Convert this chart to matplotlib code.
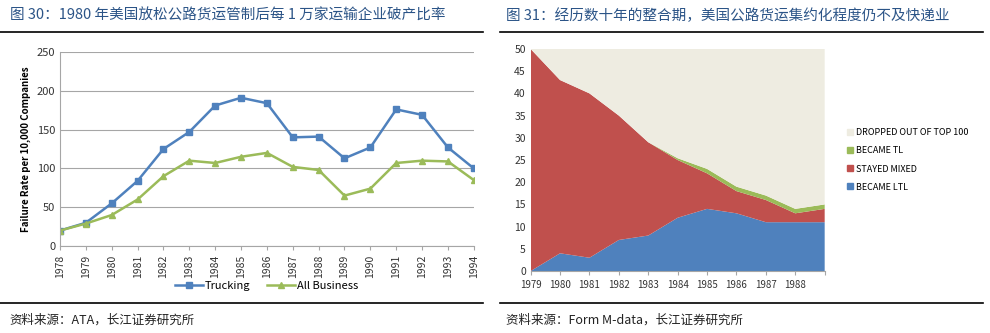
import matplotlib
matplotlib.use("Agg")
import matplotlib.pyplot as plt
from matplotlib.lines import Line2D
from matplotlib.patches import Patch

plt.rcParams['font.family'] = ['Noto Sans CJK SC', 'DejaVu Sans']

# 图 30 数据
years_l = list(range(1978, 1995))
trucking = [20, 30, 55, 84, 125, 147, 181, 191, 184, 140, 141, 113, 127, 176, 169, 127, 100]
all_business = [20, 29, 40, 60, 90, 110, 107, 115, 120, 102, 98, 65, 74, 107, 110, 109, 85]

# 图 31 数据
years_r = list(range(1979, 1990))
became_ltl = [0, 4, 3, 7, 8, 12, 14, 13, 11, 11, 11]
stayed_mixed = [50, 39, 37, 28, 21, 13, 8, 5, 5, 2, 3]
became_tl = [0, 0, 0, 0, 0, 0.4, 1, 1, 1, 1, 1]
dropped = [0, 7, 10, 15, 21, 24.6, 27, 31, 33, 36, 35]
year_labels_r = ['1979', '1980', '1981', '1982', '1983', '1984', '1985', '1986', '1987', '1988', '']

BLUE = "#4F81BD"
RED = "#C0504D"
GREEN = "#9BBB59"
BEIGE = "#EEECE1"
TITLE_C = "#2B5487"
GRID = "#A6A6A6"

fig = plt.figure(figsize=(9.9, 3.33), dpi=100)

# 标题与分隔线
fig.text(0.010, 0.952, "图 30：1980 年美国放松公路货运管制后每 1 万家运输企业破产比率",
         fontsize=10.5, color=TITLE_C, va="center")
fig.text(0.511, 0.952, "图 31：经历数十年的整合期，美国公路货运集约化程度仍不及快递业",
         fontsize=10.5, color=TITLE_C, va="center")
for x0, x1 in [(0.0, 0.488), (0.505, 0.993)]:
    fig.add_artist(Line2D([x0, x1], [0.904, 0.904], color="black", lw=1.2))
    fig.add_artist(Line2D([x0, x1], [0.090, 0.090], color="black", lw=1.2))
fig.text(0.010, 0.040, "资料来源：ATA，长江证券研究所", fontsize=9, color="#222222", va="center")
fig.text(0.511, 0.040, "资料来源：Form M-data，长江证券研究所", fontsize=9, color="#222222", va="center")

# 左图：折线
ax1 = fig.add_axes([0.0606, 0.261, 0.418, 0.583])
ax1.plot(years_l, trucking, color=BLUE, lw=1.8, marker="s", ms=4, label="Trucking")
ax1.plot(years_l, all_business, color=GREEN, lw=1.8, marker="^", ms=4, label="All Business")
ax1.set_xlim(1978, 1994)
ax1.set_ylim(0, 250)
ax1.set_yticks(range(0, 251, 50))
ax1.set_xticks(years_l)
ax1.set_xticklabels([str(y) for y in years_l], rotation=90, fontsize=7.5, color="#333333")
ax1.tick_params(axis="y", labelsize=8, colors="#333333", length=0)
ax1.tick_params(axis="x", length=3, color=GRID)
ax1.yaxis.grid(True, color=GRID, lw=0.8)
ax1.set_axisbelow(True)
for s in ["top", "right"]:
    ax1.spines[s].set_visible(False)
ax1.spines["left"].set_color(GRID)
ax1.spines["bottom"].set_color(GRID)
ax1.set_ylabel("Failure Rate per 10,000 Companies", fontsize=7, fontweight="bold", labelpad=4)
ax1.legend(loc="upper center", bbox_to_anchor=(0.5, -0.155), ncol=2, frameon=False,
           fontsize=8, handlelength=2.5, handletextpad=0.2, columnspacing=1.5,
           borderaxespad=0)

# 右图：堆积面积
ax2 = fig.add_axes([0.536, 0.186, 0.297, 0.667])
ax2.stackplot(years_r, became_ltl, stayed_mixed, became_tl, dropped,
              colors=[BLUE, RED, GREEN, BEIGE], lw=0)
ax2.set_xlim(1979, 1989)
ax2.set_ylim(0, 50)
ax2.set_yticks(range(0, 51, 5))
ax2.set_xticks(years_r)
ax2.set_xticklabels(year_labels_r, fontsize=7, color="#333333")
ax2.tick_params(axis="y", labelsize=7.5, colors="#333333", length=0)
ax2.tick_params(axis="x", length=3, color=GRID)
for s in ["top", "right", "left"]:
    ax2.spines[s].set_visible(False)
ax2.spines["bottom"].set_color(GRID)

handles = [Patch(color=BEIGE), Patch(color=GREEN), Patch(color=RED), Patch(color=BLUE)]
labels = ["DROPPED OUT OF TOP 100", "BECAME TL", "STAYED MIXED", "BECAME LTL"]
ax2.legend(handles, labels, loc="center left", bbox_to_anchor=(1.05, 0.5), frameon=False,
           fontsize=6.5, handlelength=0.6, handleheight=0.6, handletextpad=0.3,
           labelspacing=1.0)

fig.savefig("out.png", dpi=100, facecolor="white")
